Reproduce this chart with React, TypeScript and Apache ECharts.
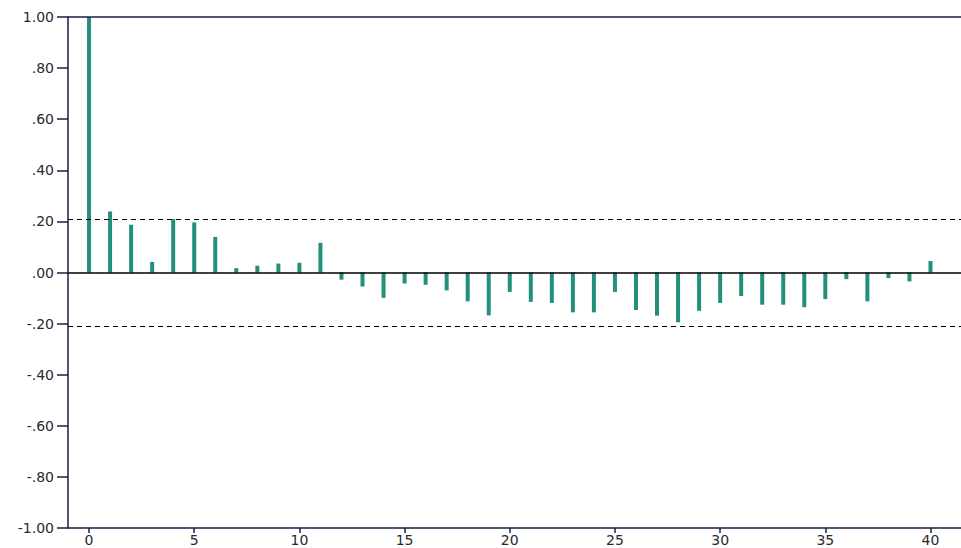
import React, { useEffect, useRef } from "react";
import * as echarts from "echarts";

const lags: number[] = Array.from({ length: 41 }, (_, i) => i);
const acf: number[] = [
  1.0, 0.239, 0.187, 0.041, 0.209, 0.196, 0.139, 0.017, 0.026, 0.035, 0.038,
  0.116, -0.028, -0.055, -0.099, -0.043, -0.048, -0.07, -0.113, -0.168, -0.076,
  -0.115, -0.119, -0.156, -0.156, -0.076, -0.147, -0.169, -0.195, -0.15, -0.119,
  -0.092, -0.126, -0.126, -0.136, -0.104, -0.026, -0.113, -0.022, -0.035, 0.045,
];
const confBound = 0.21;
const xTicks: number[] = [0, 5, 10, 15, 20, 25, 30, 35, 40];
const yTicks: number[] = [-1, -0.8, -0.6, -0.4, -0.2, 0, 0.2, 0.4, 0.6, 0.8, 1];

const fmtY = (v: number) => {
  const s = v.toFixed(2);
  return s.replace(/^(-?)0\./, "$1.");
};

export default function App() {
  const ref = useRef<HTMLDivElement>(null);
  useEffect(() => {
    if (!ref.current) return;
    const chart = echarts.init(ref.current, undefined, { renderer: "svg" });
    const axisColor = "#1c1c45";
    const labelStyle = {
      color: "#2a2a2a",
      fontFamily: "DejaVu Sans",
      fontSize: 14,
    };
    chart.setOption({
      animation: false,
      backgroundColor: "#ffffff",
      grid: { left: 68, right: 0, top: 17, bottom: 20, containLabel: false },
      xAxis: {
        type: "value",
        min: -1,
        max: 41.45,
        axisLine: { show: true, onZero: false, lineStyle: { color: axisColor, width: 1.5 } },
        axisTick: {
          show: true,
          customValues: xTicks,
          length: 5,
          lineStyle: { color: axisColor, width: 1.5 },
        },
        axisLabel: {
          ...labelStyle,
          customValues: xTicks,
          margin: 5,
          formatter: (v: number) => String(v),
        },
        splitLine: { show: false },
      },
      yAxis: {
        type: "value",
        min: -1,
        max: 1,
        axisLine: { show: true, onZero: false, lineStyle: { color: axisColor, width: 1.5 } },
        axisTick: {
          show: true,
          customValues: yTicks,
          length: 11,
          lineStyle: { color: axisColor, width: 1.5 },
        },
        axisLabel: {
          ...labelStyle,
          customValues: yTicks,
          margin: 14,
          formatter: (v: number) => fmtY(v),
        },
        splitLine: { show: false },
      },
      series: [
        {
          type: "bar",
          data: lags.map((l, i) => [l, acf[i]]),
          barWidth: 4,
          itemStyle: { color: "#23907b" },
          markLine: {
            silent: true,
            symbol: "none",
            label: { show: false },
            data: [
              { yAxis: 0, lineStyle: { type: "solid", color: "#000000", width: 1.5 } },
              { yAxis: confBound, lineStyle: { type: [5, 4], color: "#000000", width: 1.2 } },
              { yAxis: -confBound, lineStyle: { type: [5, 4], color: "#000000", width: 1.2 } },
            ],
          },
        },
        {
          type: "line",
          data: [],
          markLine: {
            silent: true,
            symbol: "none",
            label: { show: false },
            lineStyle: { type: "solid", color: axisColor, width: 1.5 },
            data: [{ yAxis: 1 }],
          },
        },
      ],
    });
    return () => chart.dispose();
  }, []);
  return <div ref={ref} style={{ width: 961, height: 548, position: "absolute", left: 0, top: 0 }} />;
}
